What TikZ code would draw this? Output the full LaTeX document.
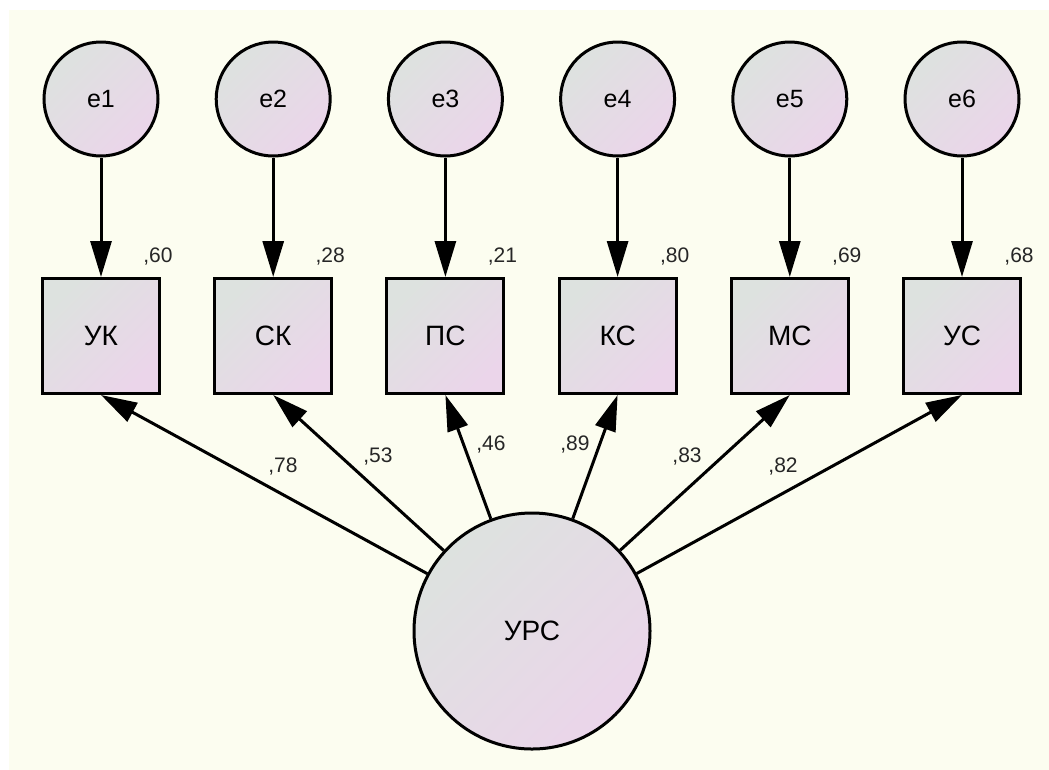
\documentclass[tikz,border=0pt]{standalone}
\usepackage{fontspec}
\setmainfont{Liberation Sans}
\usetikzlibrary{arrows.meta,positioning,calc}

\definecolor{paper}{HTML}{FCFDF0}
\definecolor{fillA}{HTML}{DDE2DF}
\definecolor{fillB}{HTML}{EBD5EA}

\begin{document}
\begin{tikzpicture}[x=1pt,y=-1pt]
	\tikzset{
	  basic/.style  = {draw, line width=3pt, top color=fillA, bottom color=fillB,
	                   shading angle=45, inner sep=0pt},
	  err/.style    = {basic, circle, minimum size=114pt,
	                   font=\fontsize{25}{29}\selectfont},
	  obs/.style    = {basic, rectangle, minimum width=117pt, minimum height=115pt,
	                   font=\fontsize{28}{32}\selectfont},
	  lat/.style    = {basic, circle, minimum size=236pt,
	                   font=\fontsize{28}{32}\selectfont},
	  coef/.style   = {font=\fontsize{21}{25}\selectfont, text=black!85, inner sep=0pt},
	  link/.style   = {line width=3pt, -{Triangle[length=36pt,width=21pt]}}
	}

	\useasboundingbox (0,0) rectangle (1049,769);
	\fill[paper] (9,10) rectangle (1070,790);

	% latent factor
	\node[lat] (urs) at (532,631) {УРС};

	% errors, indicators and their variances
	\foreach \lab/\nm/\var [count=\i] in {УК/uk/{,60}, СК/sk/{,28}, ПС/ps/{,21},
	                                     КС/ks/{,80}, МС/ms/{,69}, УС/us/{,68}}{
	  \node[err] (e\i) at ({101+172.2*(\i-1)},99) {e\i};
	  \node[obs] (\nm) at ({101+172.2*(\i-1)},336) {\lab};
	  \node[coef] (r\i) at ($(\nm.north east)+(-3,-20)$) {\var};
	  \draw[link] (e\i) -- (\nm);
	  \draw[link] (urs) -- (\nm.south);
	}

	% loadings
	\node[coef] (c1) at (283,467) {,78};
	\node[coef] (c2) at (378,457) {,53};
	\node[coef] (c3) at (491,445) {,46};
	\node[coef] (c4) at (575,445) {,89};
	\node[coef] (c5) at (687,457) {,83};
	\node[coef] (c6) at (783,467) {,82};
\end{tikzpicture}
\end{document}
